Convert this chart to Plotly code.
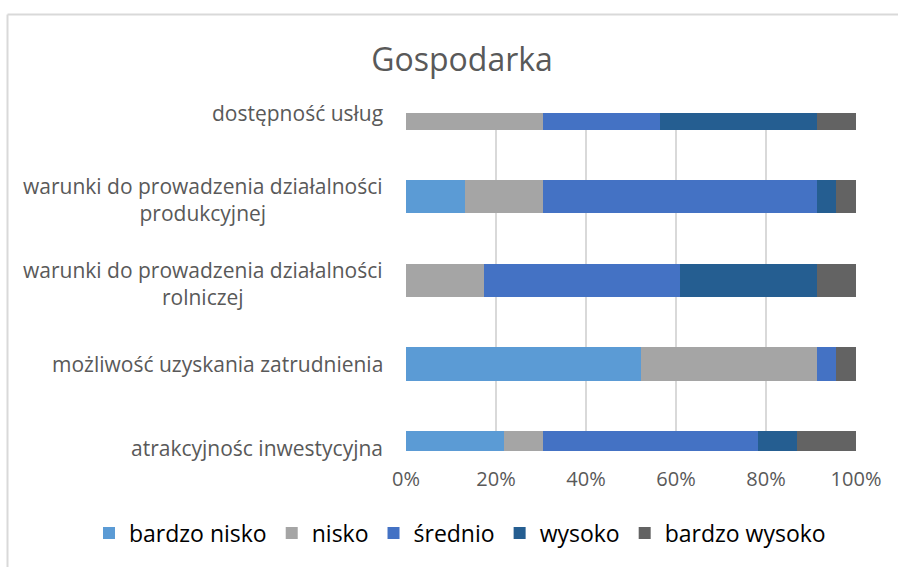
import plotly.graph_objects as go

categories = [
    "atrakcyjnośc inwestycyjna",
    "możliwość uzyskania zatrudnienia",
    "warunki do prowadzenia działalności<br>rolniczej",
    "warunki do prowadzenia działalności<br>produkcyjnej",
    "dostępność usług",
]
series_names = ["bardzo nisko", "nisko", "średnio", "wysoko", "bardzo wysoko"]
bardzo_nisko = [21.7, 52.2, 0.0, 13.0, 0.0]
nisko = [8.7, 39.1, 17.4, 17.4, 30.4]
srednio = [47.8, 4.3, 43.5, 60.9, 26.1]
wysoko = [8.7, 0.0, 30.4, 4.3, 34.8]
bardzo_wysoko = [13.0, 4.3, 8.7, 4.3, 8.7]
x_ticks = [0, 20, 40, 60, 80, 100]
x_tick_labels = ["0%", "20%", "40%", "60%", "80%", "100%"]
title_text = "Gospodarka"

colors = ["#5B9BD5", "#A5A5A5", "#4472C4", "#255E91", "#636363"]
values = [bardzo_nisko, nisko, srednio, wysoko, bardzo_wysoko]

FONT = "Open Sans"
TXT = "#595959"

fig = go.Figure()
for name, vals, col in zip(series_names, values, colors):
    fig.add_trace(go.Bar(
        y=categories, x=vals, name=name, orientation="h",
        marker=dict(color=col, line=dict(width=0)),
        width=0.4, hoverinfo="x+name",
    ))

for cat in categories:
    fig.add_annotation(
        xref="paper", yref="y", x=-0.047, y=cat, text=cat,
        xanchor="right", yanchor="middle", align="center", showarrow=False,
        yshift=-3 if "<br>" in cat else 0,
        font=dict(family=FONT, size=21, color=TXT),
    )

fig.update_layout(
    barmode="stack",
    width=898, height=567,
    margin=dict(l=406, r=42, t=113, b=116),
    paper_bgcolor="white", plot_bgcolor="white",
    title=dict(text=title_text, x=0.5145, xanchor="center", xref="container",
               y=1 - 60 / 567, yanchor="middle", yref="container",
               font=dict(family=FONT, size=32, color=TXT)),
    font=dict(family=FONT, color=TXT),
    xaxis=dict(range=[0, 100], tickvals=x_ticks, ticktext=x_tick_labels,
               showgrid=True, gridcolor="#D9D9D9", gridwidth=1.5,
               zeroline=False, showline=False, ticks="", ticklabelstandoff=14,
               tickfont=dict(family=FONT, size=20, color=TXT)),
    yaxis=dict(type="category", categoryorder="array", categoryarray=categories,
               range=[-0.04, 4.0], showticklabels=False, showgrid=False,
               zeroline=False, ticks=""),
    legend=dict(orientation="h", xref="paper", yref="paper",
                x=(89 - 406) / 450, xanchor="left", y=(451 - 533) / 338, yanchor="middle",
                font=dict(family=FONT, size=23, color="#000000"),
                itemwidth=30, traceorder="normal"),
    showlegend=True,
    shapes=[
        dict(type="line", xref="paper", yref="paper",
             x0=(7.5 - 406) / 450, x1=1.2, y0=1 + (113 - 14.5) / 338, y1=1 + (113 - 14.5) / 338,
             line=dict(color="#D9D9D9", width=2)),
        dict(type="line", xref="paper", yref="paper",
             x0=(7.5 - 406) / 450, x1=(7.5 - 406) / 450, y0=1 + (113 - 14.5) / 338, y1=-0.5,
             line=dict(color="#D9D9D9", width=2)),
    ],
)

fig.write_html("out.html", config={"displayModeBar": False},
               post_script="document.body.style.margin='0';")
